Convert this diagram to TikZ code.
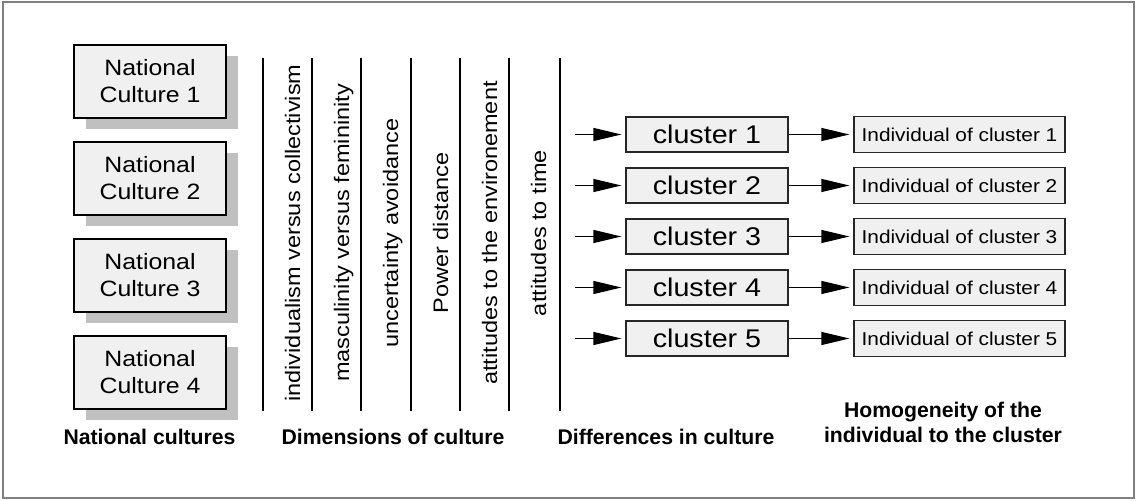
\documentclass[tikz,border=0pt]{standalone}
\usepackage{fontspec}
\setmainfont{Liberation Sans}
\newfontfamily\boxfont{Liberation Sans}[FakeStretch=1.12]
\usetikzlibrary{arrows.meta,shadows,positioning}

\definecolor{boxfill}{HTML}{F0F0F0}
\definecolor{shadowgray}{HTML}{C0C0C0}
\definecolor{framegray}{HTML}{808080}

\begin{document}
\begin{tikzpicture}
    % 样式: 国家文化框, 聚类框, 个体框, 竖排文字, 标题, 箭头
    [x=0.5pt,y=-0.5pt,
    NCNode/.style={rectangle,draw=black,fill=boxfill,line width=0.8pt,minimum width=76pt,minimum height=36.5pt,inner sep=0pt,align=center,
        font=\boxfont\fontsize{11.1}{13.5}\selectfont,
        drop shadow={shadow xshift=6pt,shadow yshift=-5.5pt,fill=shadowgray,opacity=1}},
    ClNode/.style={rectangle,draw=black!85,fill=boxfill,line width=0.6pt,minimum width=81pt,minimum height=17.5pt,inner sep=0pt,
        font=\boxfont\fontsize{12.8}{14}\selectfont},
    IndNode/.style={rectangle,draw=black!85,fill=boxfill,line width=0.6pt,minimum width=105.5pt,minimum height=18pt,inner sep=0pt,
        font=\boxfont\fontsize{9.3}{11}\selectfont},
    DimText/.style={rotate=90,anchor=base,inner sep=0pt,font=\boxfont\fontsize{10.5}{12}\selectfont},
    LabelText/.style={anchor=base,inner sep=0pt,align=center,font=\bfseries\fontsize{10.6}{12.5}\selectfont},
    Arr/.style={-{Triangle[length=14pt,width=6.5pt]},line width=0.6pt,shorten >=2pt}]

    % 画布大小与外框
    \useasboundingbox (0,0) rectangle (1136,501);
    \draw[framegray,line width=1pt] (2.5,2.5) rectangle (1133.5,498.5);

    % 国家文化结点
    \foreach \x in {1,...,4}
    \node[NCNode] (nc_\x) at (150, {81.5+97*(\x-1)}) {National\\Culture \x};

    % 文化维度的竖线
    \foreach \lx in {263,312,361,411,460,509,560}
    \draw[line width=0.6pt] (\lx,58) -- (\lx,411);

    % 竖排的维度文字
    \foreach \lx/\txt [count=\i] in {263/individualism versus collectivism,
        312/masculinity versus femininity, 361/uncertainty avoidance,
        411/Power distance, 460/attitudes to the environement, 509/attitudes to time}
    \node[DimText] (dim_\i) at (\lx+37,233) {\txt};

    % 聚类结点, 个体结点与箭头
    \foreach \x in {1,...,5}
    {
        \node[ClNode] (cl_\x) at (707, {134.5+51*(\x-1)}) {cluster \x};
        \node[IndNode] (ind_\x) at (959.5, {134.5+51*(\x-1)}) {Individual of cluster \x};
        \coordinate (in_\x) at (575, {134.5+51*(\x-1)});
        \draw[Arr] (in_\x) -- (cl_\x);
        \draw[Arr] (cl_\x) -- (ind_\x);
    }

    % 底部说明文字
    \node[LabelText] (lab_nc) at (149.5,445) {National cultures};
    \node[LabelText] (lab_dim) at (393,445) {Dimensions of culture};
    \node[LabelText] (lab_diff) at (666,445) {Differences in culture};
    \node[LabelText] (lab_hom) at (943,443) {Homogeneity of the\\individual to the cluster};

\end{tikzpicture}
\end{document}
